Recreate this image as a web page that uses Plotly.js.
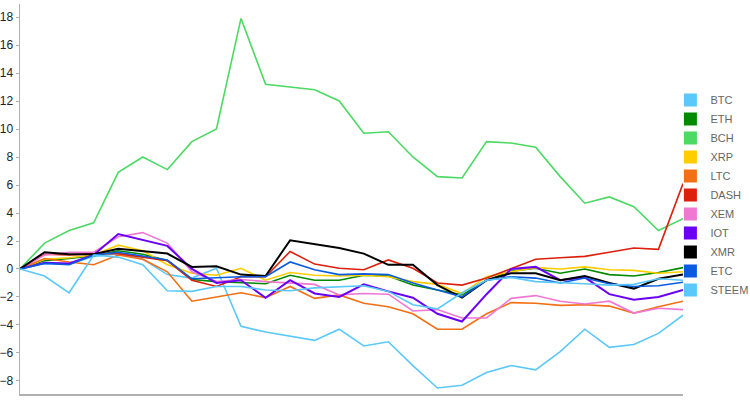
<!DOCTYPE html>
<html>
<head>
<meta charset="utf-8">
<script src="https://cdn.plot.ly/plotly-3.0.1.min.js"></script>
<style>
html,body{margin:0;padding:0;background:#fff;}
#chart{width:750px;height:400px;}
</style>
</head>
<body>
<div id="chart"></div>
<script>
// Period index (no x labels shown in the original)
const periods = [0,1,2,3,4,5,6,7,8,9,10,11,12,13,14,15,16,17,18,19,20,21,22,23,24,25,26,27];

const coins = ["BTC","ETH","BCH","XRP","LTC","DASH","XEM","IOT","XMR","ETC","STEEM"];

const BTC   = [0,0.4,0.35,0.9,1.1,0.7,-0.4,-0.65,0.05,-4.1,-4.5,-4.8,-5.1,-4.3,-5.5,-5.2,-6.9,-8.5,-8.3,-7.4,-6.9,-7.2,-5.9,-4.3,-5.6,-5.4,-4.6,-3.3];
const ETH   = [0,0.6,0.75,0.95,1.3,1.05,0.6,-0.75,-0.9,-1.0,-1.05,-0.45,-0.8,-0.8,-0.45,-0.5,-1.15,-1.5,-1.85,-0.8,-0.15,0.05,-0.3,0.0,-0.4,-0.5,-0.25,0.1];
const BCH   = [0,1.85,2.75,3.3,6.9,8.0,7.1,9.1,10.0,17.9,13.2,13.0,12.8,12.0,9.7,9.8,8.0,6.6,6.5,9.1,9.0,8.7,6.6,4.7,5.15,4.45,2.75,3.6];
const XRP   = [0,0.7,0.8,1.0,1.7,1.3,0.3,-0.3,-0.45,0.05,-0.8,-0.25,-0.45,-0.5,-0.45,-0.55,-0.9,-1.1,-1.75,-0.55,-0.2,0.1,0.0,0.15,-0.05,-0.1,-0.3,-0.2];
const LTC   = [0,0.75,0.5,0.3,1.0,0.7,-0.2,-2.3,-2.0,-1.7,-2.05,-1.25,-2.1,-1.85,-2.45,-2.7,-3.2,-4.3,-4.3,-3.2,-2.4,-2.45,-2.6,-2.55,-2.65,-3.15,-2.7,-2.3];
const DASH  = [0,1.05,1.0,1.1,1.1,0.85,0.6,-0.8,-1.25,-0.55,-0.55,1.25,0.35,0.05,-0.05,0.65,0.05,-1.0,-1.15,-0.65,0.0,0.7,0.8,0.9,1.2,1.5,1.4,6.1];
const XEM   = [0,1.0,1.2,1.2,2.3,2.6,1.85,-0.2,-0.9,-0.75,-0.9,-1.0,-1.1,-1.85,-1.75,-1.8,-3.0,-2.9,-3.5,-3.5,-2.1,-1.9,-2.3,-2.5,-2.3,-3.15,-2.8,-2.9];
const IOT   = [0,0.45,0.4,1.0,2.5,2.1,1.65,0.0,-1.0,-0.8,-2.05,-0.8,-1.75,-2.0,-1.1,-1.6,-2.05,-3.2,-3.75,-1.8,0.0,0.15,-0.8,-0.6,-1.8,-2.2,-2.0,-1.5];
const XMR   = [0,1.2,1.05,1.05,1.45,1.3,1.1,0.15,0.2,-0.4,-0.5,2.05,1.8,1.5,1.1,0.3,0.3,-1.15,-2.05,-0.8,-0.3,-0.3,-0.8,-0.5,-1.0,-1.4,-0.7,-0.4];
const ETC   = [0,0.4,0.3,1.0,1.2,0.9,0.65,-0.7,-0.6,-0.55,-0.55,0.5,-0.05,-0.4,-0.35,-0.4,-1.0,-1.5,-2.0,-0.8,-0.55,-0.65,-1.0,-0.65,-1.05,-1.25,-1.2,-0.95];
const STEEM = [0,-0.5,-1.7,1.0,0.85,0.3,-1.55,-1.6,-1.25,-1.25,-1.5,-1.55,-1.35,-1.25,-1.2,-1.6,-2.55,-2.85,-1.7,-0.8,-0.6,-0.9,-0.95,-1.05,-1.15,-1.1,-0.7,-0.8];

const seriesValues = [BTC,ETH,BCH,XRP,LTC,DASH,XEM,IOT,XMR,ETC,STEEM];
const colors = ["#5AC8FA","#008A00","#4CD964","#FFCC00","#F36F13","#DD1F0B","#EE78D2","#6A00F4","#000000","#0A5BE0","#5AC8FA"];

const traces = [];
coins.forEach((c,i)=>{
  traces.push({
    x: periods, y: seriesValues[i], name: c, type: 'scatter', mode: 'lines',
    line: {color: colors[i], width: (c==="XMR"||c==="IOT")?2:1.6},
    showlegend: false, hoverinfo: 'skip'
  });
});
coins.forEach((c,i)=>{
  traces.push({
    x: [null], y: [null], name: c, type: 'scatter', mode: 'markers',
    marker: {symbol: 'square', size: 13, color: colors[i]},
    showlegend: true
  });
});

const layout = {
  width: 750, height: 400,
  margin: {l: 20, r: 67, t: 4, b: 6, autoexpand: false},
  paper_bgcolor: '#fff', plot_bgcolor: '#fff',
  font: {family: 'Liberation Sans, Arial, sans-serif', size: 12, color: '#222'},
  showlegend: true,
  legend: {x: 0.981, xanchor: 'left', y: 0.51, yanchor: 'middle', itemsizing: 'trace',
           font: {size: 11, color: '#666'}, bgcolor: 'rgba(0,0,0,0)', borderwidth: 0},
  xaxis: {range: [0, 27], showgrid: false, zeroline: false, showticklabels: false,
          ticks: '', showline: true, linecolor: '#b0b0b0', linewidth: 1.5},
  yaxis: {range: [-8.93, 18.93], tickvals: [-8,-6,-4,-2,0,2,4,6,8,10,12,14,16,18],
          showgrid: false, zeroline: false, showline: true, linecolor: '#b0b0b0', linewidth: 1.5,
          ticks: 'outside', ticklen: 3, tickcolor: '#b0b0b0', tickfont: {size: 12, color: '#222'}}
};

Plotly.newPlot('chart', traces, layout, {staticPlot: true});
</script>
</body>
</html>
